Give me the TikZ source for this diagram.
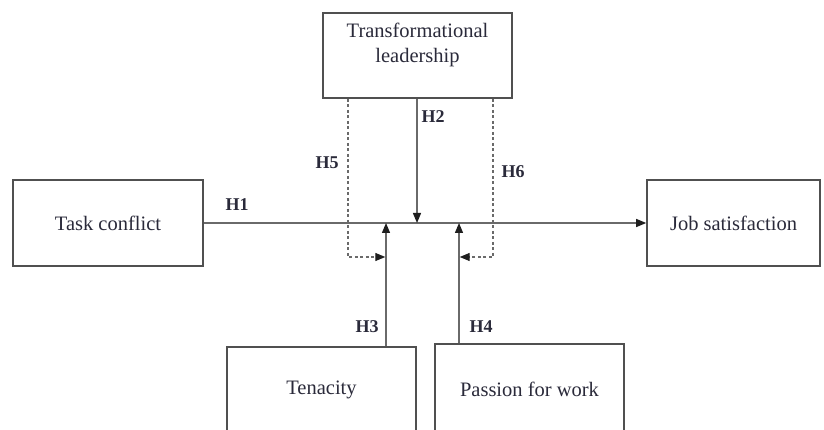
\documentclass[tikz,border=0pt]{standalone}
\usepackage{fontspec}
\setmainfont{Liberation Serif}
\usepackage{xcolor}
\usetikzlibrary{arrows.meta, positioning}
\definecolor{borde}{HTML}{505050}
\definecolor{linea}{HTML}{6A6A6A}
\definecolor{punta}{HTML}{1E1E1E}
\definecolor{texto}{HTML}{2A2A3A}
\tikzset{
  every picture/.style={>=Triangle},
  caja/.style={draw=borde, text=texto, line width=1.6pt, fill=white, align=center,
              font=\fontsize{20.5}{25}\selectfont},
  flecha/.style={-{Triangle[length=10pt, width=8pt, color=punta]}, line width=1.3pt, linea},
  flechad/.style={-{Triangle[length=10pt, width=8pt, color=punta]}, line width=1.2pt, linea, dash pattern=on 3pt off 2.5pt},
  etiq/.style={text=texto, font=\fontsize{18}{20}\selectfont\bfseries},
}

\begin{document}
\begin{tikzpicture}[x=1pt, y=-1pt]
  \useasboundingbox (0,0) rectangle (824,430);
  \clip (0,0) rectangle (824,430);
  \node[caja, minimum width=189pt, minimum height=85pt] (TL) at (417.5,55.5) {Transformational\\leadership\\ };
  \node[caja, minimum width=190pt, minimum height=86pt] (TC) at (108,223) {Task conflict};
  \node[caja, minimum width=173pt, minimum height=86pt] (JS) at (733.5,223) {Job satisfaction};
  \node[caja, minimum width=189pt, minimum height=86pt] (TE) at (321.5,390) {Tenacity};
  \node[caja, minimum width=189pt, minimum height=90pt] (PW) at (529.5,389) {Passion for work};
  % puntos sobre la flecha principal
  \coordinate (m2) at (417,223);
  \coordinate (m3) at (386,223);
  \coordinate (m4) at (459,223);
  \coordinate (d5) at (348,257);
  \coordinate (d6) at (493,257);
  \draw[flecha] (TC) -- (JS);
  \draw[flecha] (m2 |- TL.south) -- (m2);
  \draw[flecha] (m3 |- TE.north) -- (m3);
  \draw[flecha] (m4 |- PW.north) -- (m4);
  \draw[flechad] (d5 |- TL.south) -- (d5) -- ([xshift=-0.7pt]m3 |- d5);
  \draw[flechad] (d6 |- TL.south) -- (d6) -- ([xshift=0.7pt]m4 |- d6);
  \node[etiq] (H1) at (237,205) {H1};
  \node[etiq] (H2) at (433,117) {H2};
  \node[etiq] (H5) at (327,163) {H5};
  \node[etiq] (H6) at (513,172) {H6};
  \node[etiq] (H3) at (367,327) {H3};
  \node[etiq] (H4) at (481,327) {H4};
\end{tikzpicture}
\end{document}
